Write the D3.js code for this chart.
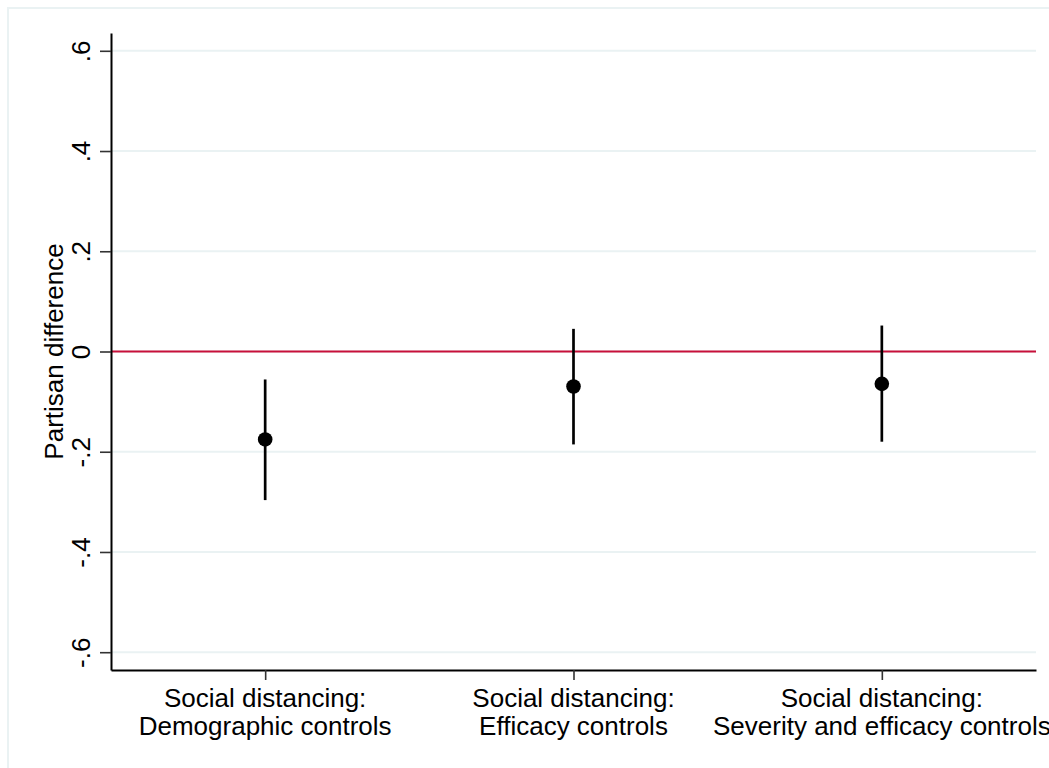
<!DOCTYPE html>
<html>
<head>
<meta charset="utf-8">
<script src="https://cdn.jsdelivr.net/npm/d3@7"></script>
<style>
  body { margin: 0; background: #fff; }
  svg { display: block; font-family: "Liberation Sans", Arial, Helvetica, sans-serif; }
</style>
</head>
<body>
<div id="graf"></div>
<script>
// Datos
var categorias = [
  ["Social distancing:", "Demographic controls"],
  ["Social distancing:", "Efficacy controls"],
  ["Social distancing:", "Severity and efficacy controls"]
];
var estimados = [-0.1755, -0.0698, -0.0645];
var limInf = [-0.2965, -0.1854, -0.1800];
var limSup = [-0.0558, 0.0452, 0.0518];
var yTicks = [0.6, 0.4, 0.2, 0, -0.2, -0.4, -0.6];
var yTickLabels = [".6", ".4", ".2", "0", "-.2", "-.4", "-.6"];
var yTitulo = "Partisan difference";

var ancho_total = 1049, alto_total = 768;
var margins = { top: 33, left: 111, right: 13, bottom: 98 };
var ancho = ancho_total - margins.left - margins.right;
var alto = alto_total - margins.top - margins.bottom;

var svg = d3.select("#graf").append("svg")
  .attr("width", ancho_total)
  .attr("height", alto_total);

// borde exterior
svg.append("rect")
  .attr("x", 8).attr("y", 8)
  .attr("width", 1100).attr("height", 800)
  .attr("fill", "none")
  .attr("stroke", "#eaf2f3")
  .attr("stroke-width", 2);

var g = svg.append("g")
  .attr("transform", `translate(${margins.left}, ${margins.top})`);

// Escaladores
var x = d3.scalePoint()
  .domain(d3.range(categorias.length))
  .range([0, ancho])
  .padding(0.5);
var y = d3.scaleLinear()
  .domain([-0.6355, 0.6355])
  .range([alto, 0]);

// lineas de cuadricula
g.selectAll(".grid")
  .data(yTicks)
  .enter().append("line")
  .attr("x1", 0).attr("x2", ancho)
  .attr("y1", d => y(d)).attr("y2", d => y(d))
  .attr("stroke", "#eaf2f3")
  .attr("stroke-width", 2);

// linea de referencia en cero
g.append("line")
  .attr("x1", 0).attr("x2", ancho)
  .attr("y1", y(0)).attr("y2", y(0))
  .attr("stroke", "#c8103a")
  .attr("stroke-width", 2);

// Ejes
var yAxis = g.append("g")
  .call(d3.axisLeft(y).tickValues(yTicks).tickSize(11).tickSizeOuter(0)
    .tickFormat((d, i) => yTickLabels[i]));
yAxis.select(".domain").attr("stroke", "#000").attr("stroke-width", 2);
yAxis.selectAll(".tick line").attr("stroke", "#333").attr("stroke-width", 1.6);
yAxis.selectAll(".tick text")
  .attr("transform", "rotate(-90)")
  .attr("x", 0).attr("y", -21).attr("dy", 0)
  .attr("text-anchor", "middle")
  .attr("font-size", 26)
  .attr("fill", "#000");

var xAxis = g.append("g")
  .attr("transform", `translate(0, ${alto})`)
  .call(d3.axisBottom(x).tickSize(10).tickSizeOuter(0).tickFormat(""));
xAxis.select(".domain").attr("stroke", "#000").attr("stroke-width", 2);
xAxis.selectAll(".tick line").attr("stroke", "#333").attr("stroke-width", 1.6);

// etiquetas de categorias
var etiquetas = g.selectAll(".etiqueta")
  .data(categorias)
  .enter().append("text")
  .attr("text-anchor", "middle")
  .attr("font-size", 26)
  .attr("fill", "#000");
etiquetas.selectAll("tspan")
  .data((d, i) => d.map(t => ({ t: t, i: i })))
  .enter().append("tspan")
  .attr("x", d => x(d.i))
  .attr("y", (d, j) => alto + 37 + j * 28)
  .text(d => d.t);

// titulo eje y
g.append("text")
  .attr("transform", `translate(${63 - margins.left}, ${y(0)}) rotate(-90)`)
  .attr("text-anchor", "middle")
  .attr("font-size", 26)
  .attr("fill", "#000")
  .text(yTitulo);

// intervalos
g.selectAll(".ci")
  .data(estimados)
  .enter().append("line")
  .attr("x1", (d, i) => x(i)).attr("x2", (d, i) => x(i))
  .attr("y1", (d, i) => y(limSup[i]))
  .attr("y2", (d, i) => y(limInf[i]))
  .attr("stroke", "#000")
  .attr("stroke-width", 2.7);

// puntos
g.selectAll(".pt")
  .data(estimados)
  .enter().append("circle")
  .attr("cx", (d, i) => x(i))
  .attr("cy", d => y(d))
  .attr("r", 7.3)
  .attr("fill", "#000");
</script>
</body>
</html>
